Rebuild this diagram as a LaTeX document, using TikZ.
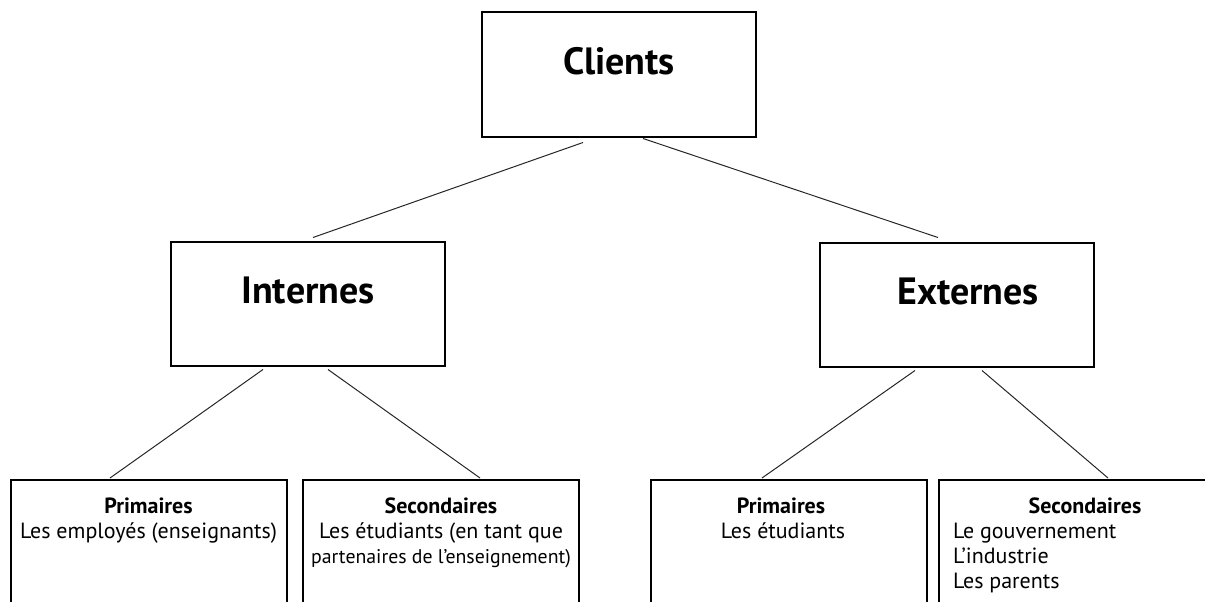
\documentclass[tikz,border=0pt]{standalone}
\usepackage{fontspec}
\setmainfont{PT Sans}
\usetikzlibrary{positioning}
\tikzset{
        box/.style={draw=black, line width=2pt, inner sep=0pt},
        % Top level boxes
        node_main/.style={box, minimum width=274pt, minimum height=124pt, text height=24pt, text depth=24pt, font=\fontsize{38}{44}\selectfont\bfseries},
        % Bottom boxes (cut by the page edge)
        node_sub/.style={box, anchor=north, minimum width=276pt, inner ysep=16pt, font=\fontsize{22}{25}\selectfont},
        % Connectors
        link/.style={black!85, line width=1pt}
}
\newcommand{\subtext}[1]{\parbox[t][150pt][t]{276pt}{#1}}

\begin{document}
\begin{tikzpicture}[x=1pt, y=1pt]
            \useasboundingbox (0,0) rectangle (1205,-602);
            \clip (0,0) rectangle (1205,-602);

            \node[node_main] (clients) at (619,-74.5) {Clients};
            \node[node_main] (internes) at (308,-303.5) {Internes};
            \node[node_main] (externes) at (957,-304.5) {\hspace*{22pt}Externes};

            \node[node_sub] (int_prim) at (148.5,-479) {\subtext{\centering
                \textbf{Primaires}\strut\\ Les employés (enseignants)}};
            \node[node_sub] (int_sec) at (441,-479) {\subtext{\centering
                \textbf{Secondaires}\strut\\ Les étudiants (en tant que\\
                \makebox[0pt][c]{\fontsize{19.8}{25}\selectfont partenaires de l’enseignement)}}};
            \node[node_sub] (ext_prim) at (789,-479) {\subtext{\centering
                \hspace*{-16pt}\textbf{Primaires}\strut\\ \hspace*{-12pt}Les étudiants}};
            \node[node_sub] (ext_sec) at (1077,-479) {\subtext{{\centering
                \hspace*{16pt}\textbf{Secondaires}\strut\par}
                \leftskip=14pt Le gouvernement\\ L’industrie\\ Les parents}};

            \draw[link] ([xshift=-36pt,yshift=-5pt]clients.south) -- ([xshift=5pt,yshift=3pt]internes.north);
            \draw[link] ([xshift=24pt,yshift=-1pt]clients.south) -- ([xshift=-19pt,yshift=4pt]externes.north);
            \draw[link] ([xshift=-45pt,yshift=-3pt]internes.south) -- ([xshift=-38.5pt,yshift=1pt]int_prim.north);
            \draw[link] ([xshift=20pt,yshift=-3pt]internes.south) -- ([xshift=39pt,yshift=1pt]int_sec.north);
            \draw[link] ([xshift=-42pt,yshift=-3pt]externes.south) -- ([xshift=-27pt,yshift=1pt]ext_prim.north);
            \draw[link] ([xshift=25pt,yshift=-3pt]externes.south) -- ([xshift=31pt,yshift=1pt]ext_sec.north);
\end{tikzpicture}
\end{document}
